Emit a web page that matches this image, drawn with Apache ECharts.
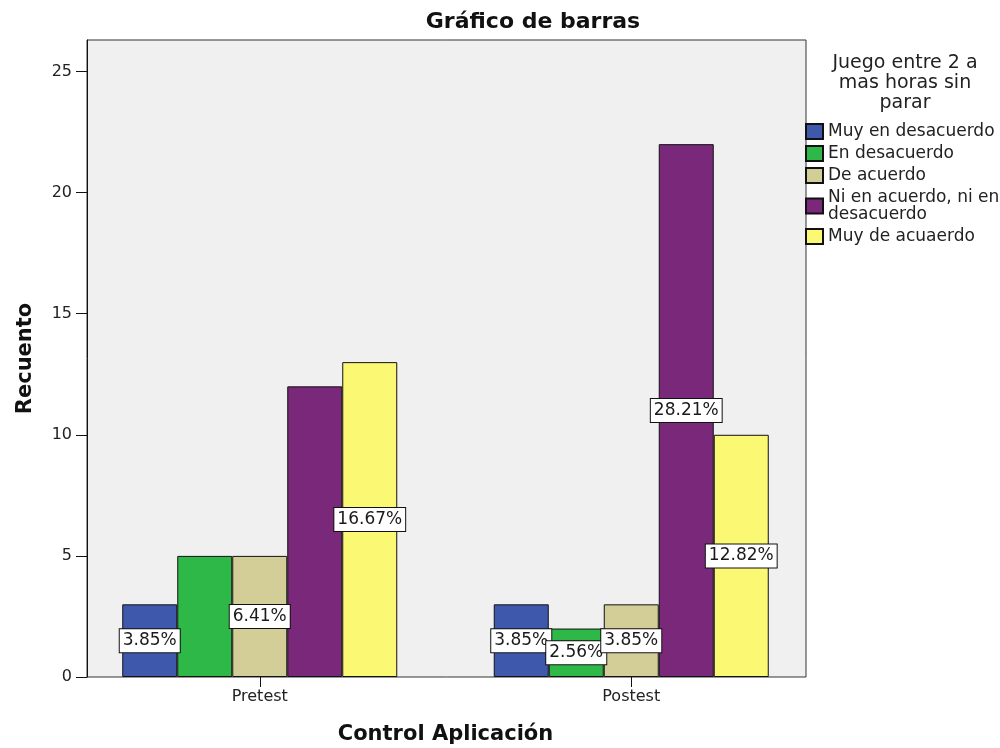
<!DOCTYPE html>
<html><head><meta charset="utf-8">
<script src="https://cdn.jsdelivr.net/npm/echarts@6/dist/echarts.min.js"></script>
<style>html,body{margin:0;padding:0;background:#fff}#c{width:1000px;height:748px}</style>
</head><body><div id="c"></div>
<script>
const categories = ['Pretest', 'Postest'];
const seriesNames = ['Muy en desacuerdo', 'En desacuerdo', 'De acuerdo', 'Ni en acuerdo, ni en\ndesacuerdo', 'Muy de acuaerdo'];
const muyDesacuerdo = [3, 3];
const enDesacuerdo = [5, 2];
const deAcuerdo = [5, 3];
const niNi = [12, 22];
const muyAcuerdo = [13, 10];
// which bars show a percent label in the reference
const showMuyDesacuerdo = [true, true];
const showEnDesacuerdo = [false, true];
const showDeAcuerdo = [true, true];
const showNiNi = [false, true];
const showMuyAcuerdo = [true, true];
const yTicks = [0, 5, 10, 15, 20, 25];

const allValues = [muyDesacuerdo, enDesacuerdo, deAcuerdo, niNi, muyAcuerdo];
const allShow = [showMuyDesacuerdo, showEnDesacuerdo, showDeAcuerdo, showNiNi, showMuyAcuerdo];
const colors = ['#3e58ac', '#2eb848', '#d3ce97', '#7a287a', '#fbf873'];
const total = allValues.flat().reduce((a, b) => a + b, 0);

const font = '"DejaVu Sans", "Liberation Sans", Arial, sans-serif';
const chart = echarts.init(document.getElementById('c'));

const series = allValues.map((vals, i) => ({
  name: seriesNames[i],
  type: 'bar',
  barWidth: 55,
  barGap: '0%',
  itemStyle: { color: colors[i], borderColor: '#111', borderWidth: 1 },
  data: vals.map((v, j) => ({
    value: v,
    label: {
      show: allShow[i][j],
      position: 'inside',
      formatter: (100 * v / total).toFixed(2) + '%',
      backgroundColor: '#fff',
      borderColor: '#111',
      borderWidth: 1,
      padding: [2, 3, 1, 3],
      lineHeight: 20,
      color: '#1a1a1a',
      fontSize: 17,
      fontFamily: font
    }
  }))
}));

chart.setOption({
  animation: false,
  backgroundColor: '#fff',
  title: [
    { text: 'Gráfico de barras', left: 533, top: 11, textAlign: 'center', padding: 0,
      textStyle: { fontFamily: font, fontSize: 22, fontWeight: 'bold', color: '#111' } },
    { text: 'Juego entre 2 a\nmas horas sin\nparar', left: 905, top: 53, textAlign: 'center', padding: 0,
      textStyle: { fontFamily: font, fontSize: 19, fontWeight: 'normal', color: '#222', lineHeight: 20 } }
  ],
  legend: {
    orient: 'vertical', left: 805, top: 123, padding: 0,
    itemWidth: 17, itemHeight: 15, itemGap: 5,
    icon: 'rect',
    textStyle: { fontFamily: font, fontSize: 17, color: '#222', lineHeight: 17 },
    data: seriesNames
  },
  graphic: [{
    type: 'rect', z: -10, silent: true,
    shape: { x: 87, y: 40, width: 719, height: 637 },
    style: { fill: '#f0f0f0', stroke: '#333', lineWidth: 1 }
  }],
  grid: { left: 74, right: 183, top: 40, bottom: 71, outerBoundsMode: 'none', containLabel: false },
  xAxis: {
    type: 'category', data: categories,
    name: 'Control Aplicación', nameLocation: 'middle', nameGap: 47,
    nameTextStyle: { fontFamily: font, fontSize: 21, fontWeight: 'bold', color: '#111' },
    axisLine: { show: false },
    axisTick: { show: true, alignWithLabel: true, length: 10, lineStyle: { color: '#111' } },
    axisLabel: { fontFamily: font, fontSize: 16, color: '#222', margin: 12 },
    splitLine: { show: false }
  },
  yAxis: {
    type: 'value', min: 0, max: 26.3, interval: 5, offset: -13,
    name: 'Recuento', nameLocation: 'middle', nameGap: 51,
    nameTextStyle: { fontFamily: font, fontSize: 21, fontWeight: 'bold', color: '#111' },
    axisLine: { show: true, lineStyle: { color: '#111' } },
    axisTick: { show: true, length: 11, lineStyle: { color: '#111' }, customValues: yTicks },
    axisLabel: { fontFamily: font, fontSize: 16, color: '#222', margin: 15, customValues: yTicks },
    splitLine: { show: false }
  },
  series: series
});
</script>
</body></html>
